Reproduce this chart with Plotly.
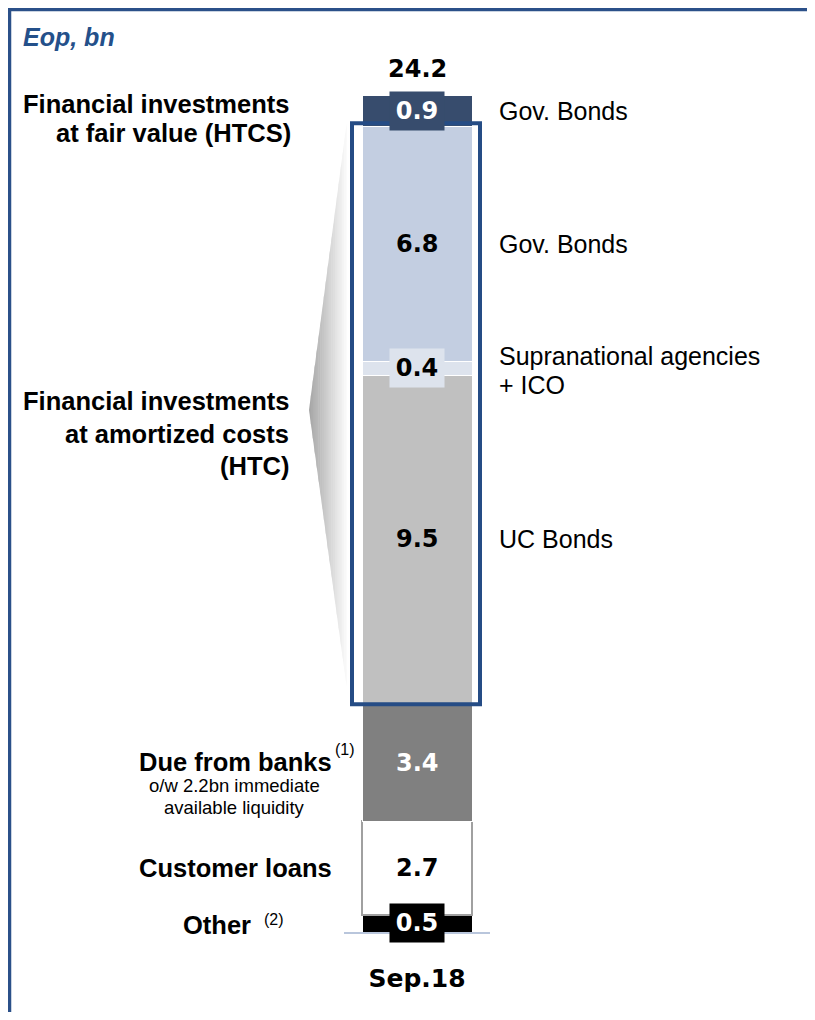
import plotly.graph_objects as go

# ---------------- data ----------------
categories = ["Sep.18"]
segment_names = ["Other", "Customer loans", "Due from banks", "UC Bonds",
                 "Supranational agencies + ICO", "Gov. Bonds (HTC)", "Gov. Bonds (HTCS)"]
segment_values = [0.5, 2.7, 3.4, 9.5, 0.4, 6.8, 0.9]
segment_colors = ["#000000", "#ffffff", "#808080", "#c0c0c0", "#dde3ed", "#c3cee1", "#374c6d"]
value_text_colors = ["#ffffff", "#000000", "#ffffff", "#000000", "#000000", "#000000", "#ffffff"]
value_boxed = [True, False, False, False, True, False, True]
right_labels = {3: ["UC Bonds"], 4: ["Supranational agencies", "+ ICO"],
                5: ["Gov. Bonds"], 6: ["Gov. Bonds"]}
unit_label = "Eop, bn"

# ---------------- geometry helpers (page pixels -> paper) ----------------
OFF = 8                      # page body margin
W, H = 815 - 2 * OFF, 1020 - 2 * OFF
L, T = 344 - OFF, 95 - OFF
R, B = W - (490 - OFF), H - (932 - OFF)
PW, PH = W - L - R, H - T - B


def px(x):
    return (x - OFF - L) / PW


def py(y):
    return (H - B - (y - OFF)) / PH


LBL = "Liberation Sans, Arial, sans-serif"
NUM = "DejaVu Sans, sans-serif"
NAVY = "#254c85"

fig = go.Figure()
for i, (name, val) in enumerate(zip(segment_names, segment_values)):
    is_loans = name == "Customer loans"
    fig.add_trace(go.Bar(
        x=categories, y=[val], name=name, width=110 / PW,
        marker=dict(color=segment_colors[i],
                    line=dict(color="#a0a0a0" if is_loans else "#ffffff",
                              width=2 if is_loans else 1)),
        hoverinfo="skip"))

total = sum(segment_values)
annotations = []
shapes = []

# value labels at segment midpoints
base = 0.0
mids = []
for i, val in enumerate(segment_values):
    mid = base + val / 2
    mids.append(mid)
    a = dict(x=0.5, xref="paper", y=mid, yref="y", text=f"{val:.1f}",
             showarrow=False, xanchor="center", yanchor="middle",
             font=dict(family=NUM, size=24, color=value_text_colors[i], weight="bold"))
    if value_boxed[i]:
        a.update(bgcolor=segment_colors[i], width=54, height=38, borderpad=0)
    annotations.append(a)
    base += val

# total
annotations.append(dict(x=0.5, xref="paper", y=total, yref="y", text=f"{total:.1f}",
                        showarrow=False, xanchor="center", yanchor="middle", yshift=26,
                        font=dict(family=NUM, size=24, color="#000000", weight="bold")))

# right-hand labels
for idx, lines in right_labels.items():
    n = len(lines)
    for k, t in enumerate(lines):
        annotations.append(dict(x=px(497), xref="paper", y=mids[idx], yref="y", text=t,
                                showarrow=False, xanchor="left", yanchor="middle",
                                yshift=-(k - (n - 1) / 2) * 29 - (2 if n > 1 else 0),
                                font=dict(family=LBL, size=25, color="#000000")))


def left(text, x, y, size=25.5, bold=True, anchor="right"):
    annotations.append(dict(x=px(x), xref="paper", y=py(y), yref="paper", text=text,
                            showarrow=False, xanchor=anchor, yanchor="middle",
                            font=dict(family=LBL, size=size, color="#000000",
                                      weight="bold" if bold else "normal")))


left("Financial investments", 291, 104)
left("at fair value (HTCS)", 293, 133.5)
left("Financial investments", 291, 401)
left("at amortized costs", 291, 434)
left("(HTC)", 291, 466)
left("Due from banks", 334, 762)
left("(1)", 333, 749, size=16, bold=False, anchor="left")
left("o/w 2.2bn immediate", 234, 785, size=18.5, bold=False, anchor="center")
left("available liquidity", 234, 807, size=18.5, bold=False, anchor="center")
left("Customer loans", 334, 868)
left("Other", 253, 925)
left("(2)", 262, 919, size=16, bold=False, anchor="left")

annotations.append(dict(x=px(21), xref="paper", y=py(37), yref="paper", text=unit_label,
                        showarrow=False, xanchor="left", yanchor="middle",
                        font=dict(family=LBL, size=25, color="#24508a", weight="bold",
                                  style="italic")))

# gradient wedge (brace) on the left of the HTC block
tip, xr, ytop, ybot = (309.0, 410.0), 346.0, 128.0, 682.0
n = 20
c0, c1 = (165, 165, 165), (250, 250, 250)


def yt(x):
    return tip[1] + (ytop - tip[1]) * (x - tip[0]) / (xr - tip[0])


def yb(x):
    return tip[1] + (ybot - tip[1]) * (x - tip[0]) / (xr - tip[0])


for i in range(n):
    xa = tip[0] + (xr - tip[0]) * i / n
    xb = tip[0] + (xr - tip[0]) * (i + 1) / n + 0.6
    f = (i + 0.5) / n
    col = "rgb(%d,%d,%d)" % tuple(round(c0[j] + (c1[j] - c0[j]) * f) for j in range(3))
    path = (f"M {px(xa)},{py(yt(xa))} L {px(xb)},{py(yt(xb))} "
            f"L {px(xb)},{py(yb(xb))} L {px(xa)},{py(yb(xa))} Z")
    shapes.append(dict(type="path", path=path, xref="paper", yref="paper",
                       fillcolor=col, line=dict(width=0), layer="below"))

# navy outline box around HTC segments
htc_lo = sum(segment_values[:3])
htc_hi = sum(segment_values[:6])
shapes.append(dict(type="rect", xref="paper", yref="paper",
                   x0=px(352), x1=px(480), y0=htc_lo / total - 0.5 / PH,
                   y1=htc_hi / total + 3 / PH,
                   line=dict(color=NAVY, width=4), fillcolor="rgba(0,0,0,0)", layer="above"))

# frame (top and left rules)
shapes.append(dict(type="line", xref="paper", yref="paper", x0=px(8), x1=px(815),
                   y0=py(9.5), y1=py(9.5), line=dict(color="#2b5089", width=3.5)))
shapes.append(dict(type="line", xref="paper", yref="paper", x0=px(9.5), x1=px(9.5),
                   y0=py(8), y1=py(1020), line=dict(color="#2b5089", width=3.5)))

fig.update_layout(
    width=W, height=H, autosize=False,
    margin=dict(l=L, r=R, t=T, b=B),
    barmode="stack", showlegend=False,
    paper_bgcolor="#ffffff", plot_bgcolor="#ffffff",
    xaxis=dict(type="category", range=[-0.5, 0.5], showline=True, linecolor="#b9c6dc",
               linewidth=2, ticks="outside", ticklen=23, tickcolor="rgba(0,0,0,0)",
               tickfont=dict(family=NUM, size=25, color="#000000", weight="bold"),
               showgrid=False, zeroline=False, fixedrange=True),
    yaxis=dict(range=[0, total], visible=False, fixedrange=True),
    annotations=annotations, shapes=shapes,
)

fig.write_html("out.html")
